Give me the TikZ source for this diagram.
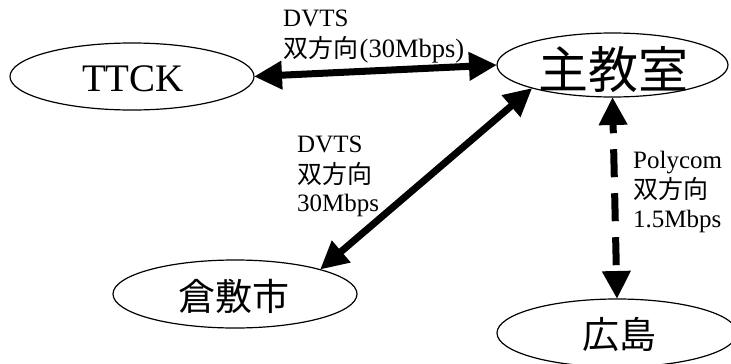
\documentclass[tikz,border=0pt]{standalone}
\usepackage{fontspec}
\setmainfont{Liberation Serif}
\newfontfamily\cjk{Noto Sans CJK JP}
\usetikzlibrary{arrows.meta,shapes.geometric}
\begin{document}
\begin{tikzpicture}[x=1pt,y=-1pt,
  placebox/.style={ellipse,draw,line width=1.2pt,inner sep=0pt,outer sep=0pt},
  nametext/.style={inner sep=0pt,anchor=center},
  link/.style={line width=7pt,{Triangle[length=28pt,width=27pt]}-{Triangle[length=28pt,width=27pt]}},
  dashlink/.style={link,dash pattern=on 28pt off 16pt,dash phase=18pt},
  labtext/.style={anchor=base west,inner sep=0pt,font=\fontsize{25}{30}\selectfont}]
\useasboundingbox (0,0) rectangle (731,364);
% places
\node[placebox,minimum width=244pt,minimum height=67pt] (ttck) at (132,76.5) {};
\node[placebox,minimum width=231pt,minimum height=64pt] (main) at (612.5,65) {};
\node[placebox,minimum width=244pt,minimum height=68pt] (kura) at (235,294) {};
\node[placebox,minimum width=240pt,minimum height=68pt] (hiro) at (617,333) {};
% names
\node[nametext,font=\fontsize{39}{44}\selectfont] (ttckt) at (133,78.5) {TTCK};
\node[nametext,font=\cjk\fontsize{50}{56}\selectfont] (maint) at (613.5,70) {主教室};
\node[nametext,font=\cjk\fontsize{37}{42}\selectfont] (kurat) at (234,296.5) {倉敷市};
\node[nametext,font=\cjk\fontsize{37}{42}\selectfont] (hirot) at (619,334) {広島};
% connectors
\draw[link] (ttck.east) -- (main.west);
\draw[link] (kura.16.6) -- (main.196.9);
\draw[dashlink] (main.south) -- (hiro.north);
% labels
\node[labtext] (l1a) at (283,27) {DVTS};
\node[labtext] (l1b) at (283,57.5) {{\cjk 双方向}\hspace{1.5pt}{\fontsize{26.5}{30}\selectfont(30Mbps)}};
\node[labtext] (l2a) at (297,152) {DVTS};
\node[labtext] (l2b) at (297,183.5) {\cjk 双方向};
\node[labtext] (l2c) at (297,211) {30Mbps};
\node[labtext] (l3a) at (633,168) {Polycom};
\node[labtext] (l3b) at (633,198.5) {\cjk 双方向};
\node[labtext] (l3c) at (633,227) {1.5Mbps};
\end{tikzpicture}
\end{document}
